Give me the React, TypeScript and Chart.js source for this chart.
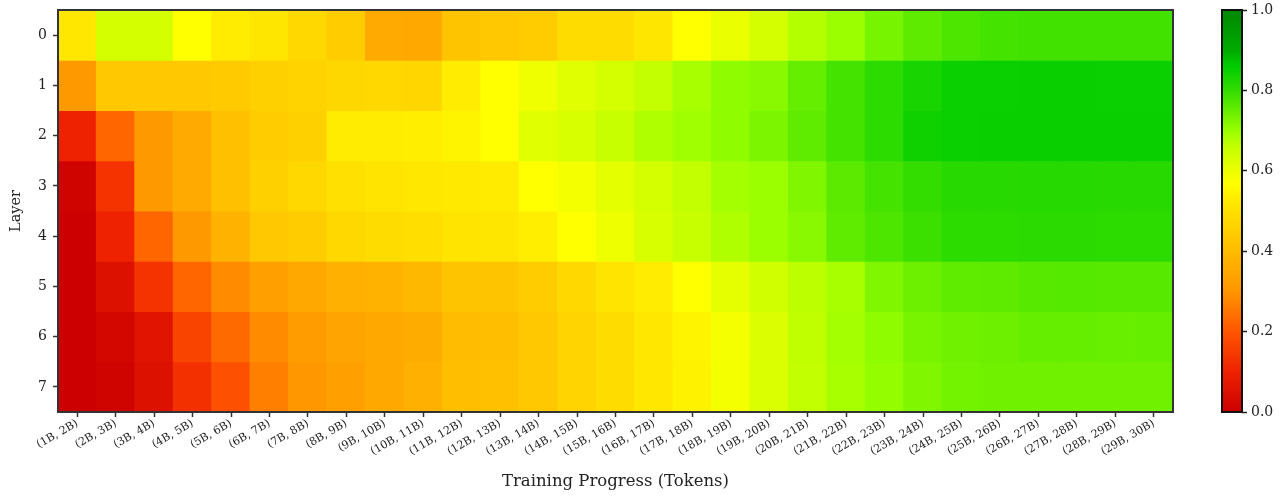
import React, { useEffect, useRef } from "react";
import { Chart, registerables } from "chart.js";

Chart.register(...registerables);

// ---------- data ----------
const TOKEN_LABELS = [
  "(1B, 2B)", "(2B, 3B)", "(3B, 4B)", "(4B, 5B)", "(5B, 6B)", "(6B, 7B)", "(7B, 8B)", "(8B, 9B)",
  "(9B, 10B)", "(10B, 11B)", "(11B, 12B)", "(12B, 13B)", "(13B, 14B)", "(14B, 15B)", "(15B, 16B)",
  "(16B, 17B)", "(17B, 18B)", "(18B, 19B)", "(19B, 20B)", "(20B, 21B)", "(21B, 22B)", "(22B, 23B)",
  "(23B, 24B)", "(24B, 25B)", "(25B, 26B)", "(26B, 27B)", "(27B, 28B)", "(28B, 29B)", "(29B, 30B)",
];

const LAYER_LABELS = ["0", "1", "2", "3", "4", "5", "6", "7"];

const LAYER_0 = [0.515, 0.637, 0.637, 0.57, 0.528, 0.514, 0.478, 0.446, 0.355, 0.35, 0.424, 0.435, 0.446, 0.489, 0.489, 0.514, 0.57, 0.603, 0.637, 0.674, 0.697, 0.733, 0.758, 0.775, 0.783, 0.785, 0.786, 0.786, 0.785];
const LAYER_1 = [0.31, 0.435, 0.435, 0.435, 0.44, 0.457, 0.465, 0.475, 0.478, 0.473, 0.528, 0.57, 0.594, 0.619, 0.637, 0.658, 0.685, 0.709, 0.717, 0.75, 0.783, 0.808, 0.832, 0.848, 0.848, 0.85, 0.85, 0.848, 0.848];
const LAYER_2 = [0.1, 0.226, 0.31, 0.355, 0.413, 0.446, 0.457, 0.528, 0.528, 0.532, 0.545, 0.57, 0.619, 0.631, 0.654, 0.678, 0.693, 0.709, 0.728, 0.756, 0.783, 0.808, 0.841, 0.848, 0.85, 0.85, 0.85, 0.85, 0.85];
const LAYER_3 = [0.008, 0.133, 0.31, 0.355, 0.413, 0.457, 0.478, 0.5, 0.509, 0.516, 0.52, 0.524, 0.57, 0.587, 0.612, 0.637, 0.658, 0.689, 0.697, 0.725, 0.76, 0.783, 0.8, 0.813, 0.813, 0.815, 0.815, 0.813, 0.813];
const LAYER_4 = [0.0, 0.1, 0.226, 0.31, 0.38, 0.435, 0.446, 0.478, 0.489, 0.495, 0.509, 0.514, 0.532, 0.57, 0.597, 0.631, 0.654, 0.678, 0.697, 0.717, 0.756, 0.775, 0.791, 0.808, 0.808, 0.811, 0.811, 0.808, 0.808];
const LAYER_5 = [0.0, 0.05, 0.133, 0.226, 0.286, 0.329, 0.35, 0.371, 0.38, 0.392, 0.424, 0.424, 0.446, 0.478, 0.509, 0.528, 0.57, 0.61, 0.643, 0.666, 0.685, 0.725, 0.744, 0.756, 0.758, 0.764, 0.766, 0.764, 0.764];
const LAYER_6 = [0.0, 0.02, 0.06, 0.167, 0.233, 0.286, 0.318, 0.34, 0.35, 0.36, 0.403, 0.41, 0.435, 0.468, 0.489, 0.516, 0.545, 0.585, 0.625, 0.662, 0.689, 0.709, 0.732, 0.74, 0.744, 0.75, 0.75, 0.748, 0.75];
const LAYER_7 = [0.0, 0.01, 0.05, 0.127, 0.19, 0.267, 0.308, 0.329, 0.35, 0.371, 0.41, 0.413, 0.435, 0.468, 0.489, 0.516, 0.54, 0.587, 0.63, 0.66, 0.685, 0.705, 0.725, 0.736, 0.74, 0.74, 0.74, 0.74, 0.74];

const LAYER_VALUES = [LAYER_0, LAYER_1, LAYER_2, LAYER_3, LAYER_4, LAYER_5, LAYER_6, LAYER_7];

const CBAR_TICKS = [0, 0.2, 0.4, 0.6, 0.8, 1.0];

// ---------- colormap (style) ----------
const CMAP_POS = [0, 0.1, 0.2, 0.3, 0.4, 0.5, 0.57, 0.65, 0.7, 0.75, 0.8, 0.86, 0.9, 1.0];
const CMAP_COLORS = [
  "#cc0000", "#ee2200", "#ff5500", "#ff9500", "#ffbb00", "#ffe000", "#ffff00",
  "#ccff00", "#99ff00", "#66ee00", "#33dd00", "#00cc00", "#00aa00", "#008800",
];

function hexToRgb(h: string): [number, number, number] {
  const n = parseInt(h.slice(1), 16);
  return [(n >> 16) & 255, (n >> 8) & 255, n & 255];
}

function cmap(v: number): string {
  const x = Math.min(1, Math.max(0, v));
  let i = 0;
  while (i < CMAP_POS.length - 2 && x > CMAP_POS[i + 1]) i++;
  const t = (x - CMAP_POS[i]) / (CMAP_POS[i + 1] - CMAP_POS[i]);
  const a = hexToRgb(CMAP_COLORS[i]);
  const b = hexToRgb(CMAP_COLORS[i + 1]);
  const c = a.map((av, k) => Math.round(av + (b[k] - av) * t));
  return `rgb(${c[0]}, ${c[1]}, ${c[2]})`;
}

const FONT = "'DejaVu Serif', 'Liberation Serif', serif";
const TEXT = "#222222";

function framePlugin(color: string, width: number) {
  return {
    id: "frame",
    afterDatasetsDraw(chart: any) {
      const { ctx, chartArea: a } = chart;
      ctx.save();
      ctx.strokeStyle = color;
      ctx.lineWidth = width;
      ctx.strokeRect(a.left, a.top, a.right - a.left, a.bottom - a.top);
      ctx.restore();
    },
  };
}

export default function App() {
  const mainRef = useRef<HTMLCanvasElement>(null);
  const cbRef = useRef<HTMLCanvasElement>(null);

  useEffect(() => {
    if (!mainRef.current || !cbRef.current) return;

    const main = new Chart(mainRef.current, {
      type: "bar",
      data: {
        labels: TOKEN_LABELS,
        datasets: LAYER_VALUES.map((row, r) => ({
          label: LAYER_LABELS[r],
          data: row.map(() => [r - 0.5, r + 0.5]),
          backgroundColor: row.map(cmap),
          borderWidth: 0,
          barPercentage: 1,
          categoryPercentage: 1,
          grouped: false,
          inflateAmount: 0.6,
        })) as any,
      },
      options: {
        animation: false,
        responsive: false,
        events: [],
        layout: { padding: { left: 0, top: 10, right: 27, bottom: 0 } },
        plugins: { legend: { display: false }, tooltip: { enabled: false } },
        scales: {
          x: {
            type: "category",
            offset: true,
            grid: {
              offset: false,
              drawOnChartArea: false,
              drawTicks: true,
              tickLength: 5,
              tickWidth: 1.5,
              tickColor: "#333333",
            },
            border: { display: false },
            ticks: {
              autoSkip: false,
              maxRotation: 30,
              minRotation: 30,
              font: { family: FONT, size: 11 },
              color: TEXT,
              padding: 0,
            },
            title: {
              display: true,
              text: "Training Progress (Tokens)",
              font: { family: FONT, size: 16.5 },
              color: TEXT,
              padding: { top: 0, bottom: 6 },
            },
            afterFit(s: any) {
              s.height = 86;
            },
          },
          y: {
            type: "linear",
            min: -0.5,
            max: 7.5,
            reverse: true,
            afterBuildTicks(s: any) {
              s.ticks = LAYER_LABELS.map((_, i) => ({ value: i }));
            },
            ticks: {
              callback: (v: any) => LAYER_LABELS[Number(v)] ?? "",
              font: { family: FONT, size: 14 },
              color: TEXT,
              padding: 6,
            },
            grid: {
              drawOnChartArea: false,
              drawTicks: true,
              tickLength: 5,
              tickWidth: 1.5,
              tickColor: "#333333",
            },
            border: { display: false },
            title: {
              display: true,
              text: "Layer",
              font: { family: FONT, size: 14.5 },
              color: TEXT,
              padding: { top: 8, bottom: 0 },
            },
            afterFit(s: any) {
              s.width = 58;
              s.paddingTop = 0;
              s.paddingBottom = 0;
            },
          },
        },
      } as any,
      plugins: [framePlugin("#333333", 2)],
    });

    const cbar = new Chart(cbRef.current, {
      type: "bar",
      data: {
        labels: [""],
        datasets: [
          {
            data: [[CBAR_TICKS[0], CBAR_TICKS[CBAR_TICKS.length - 1]]],
            backgroundColor: (c: any) => {
              const a = c.chart.chartArea;
              if (!a) return CMAP_COLORS[0];
              const g = c.chart.ctx.createLinearGradient(0, a.bottom, 0, a.top);
              CMAP_POS.forEach((p, i) => g.addColorStop(p, CMAP_COLORS[i]));
              return g;
            },
            borderWidth: 0,
            barPercentage: 1,
            categoryPercentage: 1,
          },
        ] as any,
      },
      options: {
        animation: false,
        responsive: false,
        events: [],
        layout: { padding: { left: 22, top: 10, right: 0, bottom: 86 } },
        plugins: { legend: { display: false }, tooltip: { enabled: false } },
        scales: {
          x: { display: false },
          y: {
            position: "right",
            min: 0,
            max: 1,
            afterBuildTicks(s: any) {
              s.ticks = CBAR_TICKS.map((v) => ({ value: v }));
            },
            ticks: {
              callback: (v: any) => Number(v).toFixed(1),
              font: { family: FONT, size: 14 },
              color: TEXT,
              padding: 4,
            },
            grid: {
              drawOnChartArea: false,
              drawTicks: true,
              tickLength: 5,
              tickWidth: 1.5,
              tickColor: "#222222",
            },
            border: { display: false },
            afterFit(s: any) {
              s.width = 46;
              s.paddingTop = 0;
              s.paddingBottom = 0;
            },
          },
        },
      } as any,
      plugins: [framePlugin("#111111", 2)],
    });

    return () => {
      main.destroy();
      cbar.destroy();
    };
  }, []);

  return (
    <div style={{ position: "absolute", left: 0, top: 0, width: 1288, height: 498, background: "#ffffff" }}>
      <canvas ref={mainRef} width={1200} height={498} style={{ position: "absolute", left: 0, top: 0 }} />
      <canvas ref={cbRef} width={88} height={498} style={{ position: "absolute", left: 1200, top: 0 }} />
    </div>
  );
}
